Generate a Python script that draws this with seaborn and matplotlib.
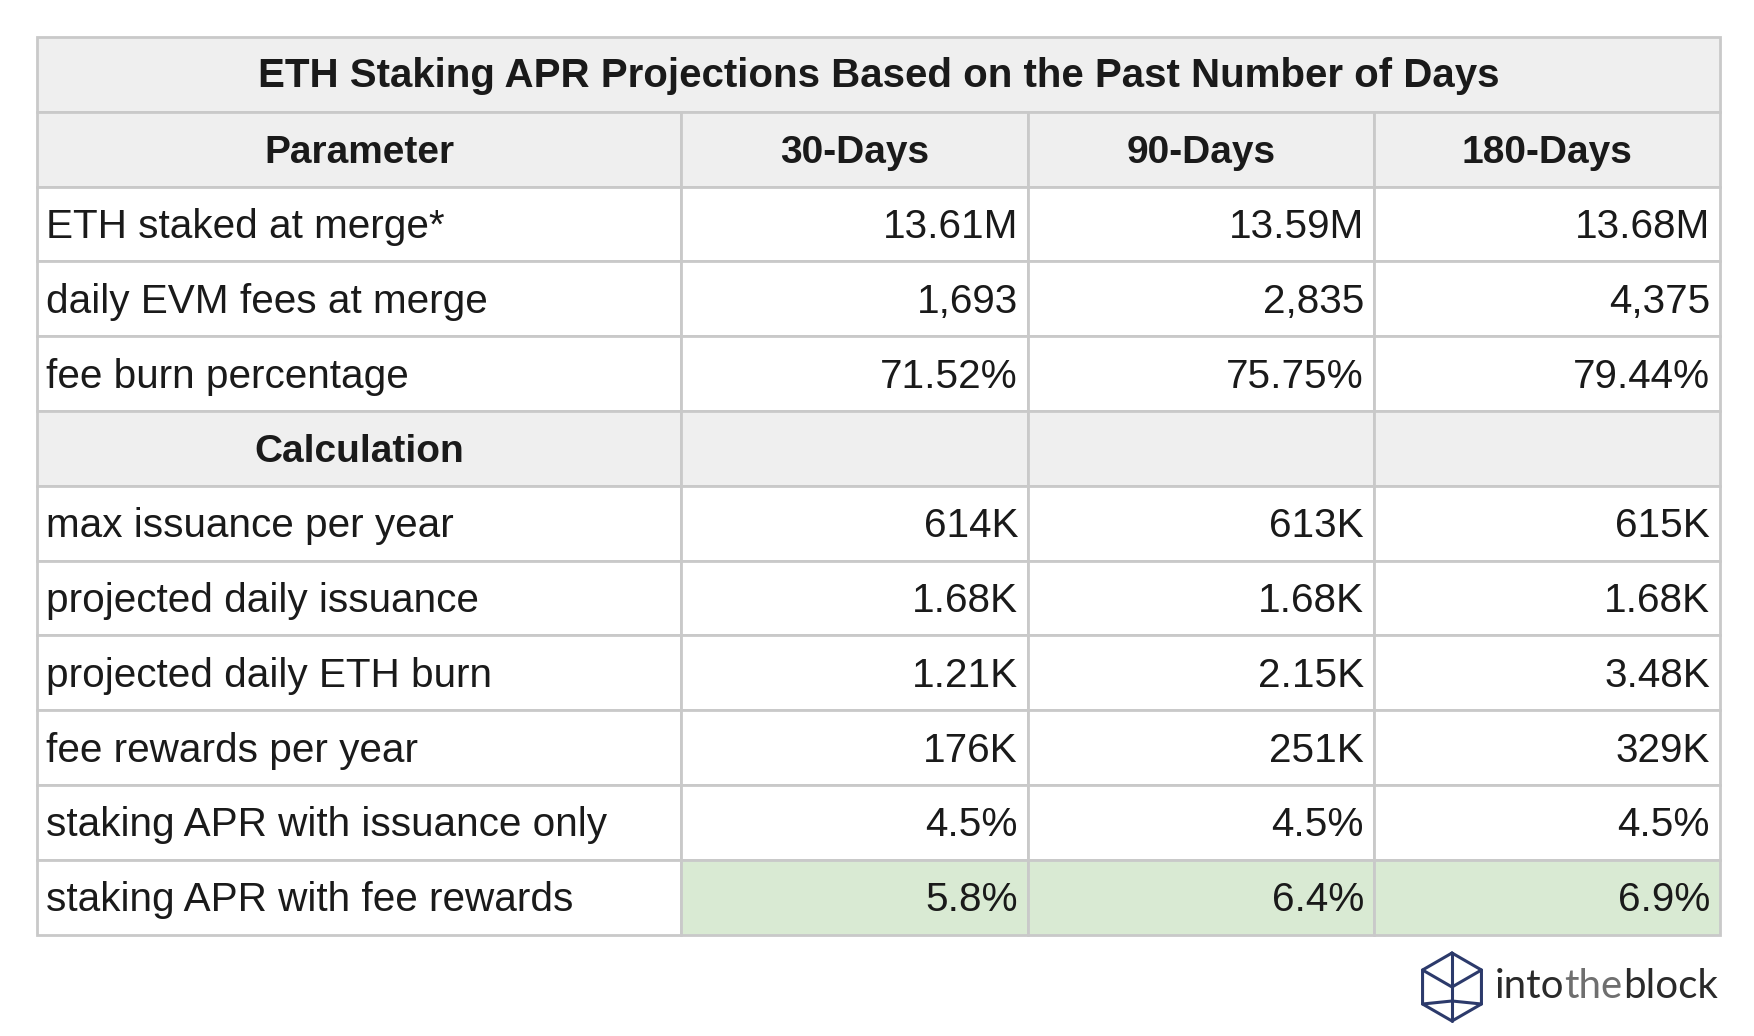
import matplotlib.pyplot as plt
import seaborn as sns
from matplotlib.patches import Rectangle
import numpy as np

# table content
title = "ETH Staking APR Projections Based on the Past Number of Days"
columns = ["Parameter", "30-Days", "90-Days", "180-Days"]
input_params = ["ETH staked at merge*", "daily EVM fees at merge", "fee burn percentage"]
input_30 = ["13.61M", "1,693", "71.52%"]
input_90 = ["13.59M", "2,835", "75.75%"]
input_180 = ["13.68M", "4,375", "79.44%"]
calc_params = ["max issuance per year", "projected daily issuance", "projected daily ETH burn",
               "fee rewards per year", "staking APR with issuance only", "staking APR with fee rewards"]
calc_30 = ["614K", "1.68K", "1.21K", "176K", "4.5%", "5.8%"]
calc_90 = ["613K", "1.68K", "2.15K", "251K", "4.5%", "6.4%"]
calc_180 = ["615K", "1.68K", "3.48K", "329K", "4.5%", "6.9%"]

sns.set_theme(style="white")
plt.rcParams["font.family"] = ["Liberation Sans", "DejaVu Sans"]

W, H = 1754, 1036
fig = plt.figure(figsize=(W / 100, H / 100), dpi=100)
ax = fig.add_axes([0, 0, 1, 1])
ax.set_xlim(0, W)
ax.set_ylim(H, 0)
ax.axis("off")

col_edges = [37, 681, 1028, 1374, 1720]
top, row_h = 37, 74.8
header_bg = "#efefef"
green_bg = "#d9ead3"
line_col = "#c9c9c9"
txt_col = "#1a1a1a"


def cell(r, c0, c1, face):
    y0 = top + r * row_h
    ax.add_patch(Rectangle((col_edges[c0], y0), col_edges[c1] - col_edges[c0], row_h,
                           facecolor=face, edgecolor=line_col, lw=2.0))


def put(r, c, s, align, bold=False):
    yb = top + r * row_h + row_h / 2 + 14
    if align == "left":
        x = col_edges[c] + 9
    elif align == "right":
        x = col_edges[c + 1] - 10
    else:
        x = (col_edges[c] + col_edges[c + 1]) / 2
    ax.text(x, yb, s, ha=align, va="baseline", fontsize=28 if bold else 29.2,
            color=txt_col, fontweight="bold" if bold else "normal")


# title row
cell(0, 0, 4, header_bg)
ax.text((col_edges[0] + col_edges[4]) / 2, top + row_h / 2 + 13, title, ha="center",
        va="baseline", fontsize=29, fontweight="bold", color=txt_col)

# header row
for c, name in enumerate(columns):
    cell(1, c, c + 1, header_bg)
    put(1, c, name, "center", bold=True)

# input rows
for i, p in enumerate(input_params):
    r = 2 + i
    for c in range(4):
        cell(r, c, c + 1, "white")
    put(r, 0, p, "left")
    for c, vals in enumerate([input_30, input_90, input_180], start=1):
        put(r, c, vals[i], "right")

# calculation header
r = 2 + len(input_params)
for c in range(4):
    cell(r, c, c + 1, header_bg)
put(r, 0, "Calculation", "center", bold=True)

# calculation rows
for i, p in enumerate(calc_params):
    r = 3 + len(input_params) + i
    last = i == len(calc_params) - 1
    for c in range(4):
        cell(r, c, c + 1, green_bg if (last and c > 0) else "white")
    put(r, 0, p, "left")
    for c, vals in enumerate([calc_30, calc_90, calc_180], start=1):
        put(r, c, vals[i], "right")

# logo icon
cx, cy, rad = 1452, 987, 34
ang = np.deg2rad([90, 30, -30, -90, -150, 150, 90])
hx = cx + rad * np.cos(ang)
hy = cy - rad * np.sin(ang)
navy = "#2c3a6b"
ax.plot(hx, hy, color=navy, lw=2.2, solid_joinstyle="round")
ax.plot([hx[5], cx, hx[1]], [hy[5], cy, hy[1]], color=navy, lw=2.2)
ax.plot([hx[0], cx, hx[3]], [hy[0], cy, hy[3]], color=navy, lw=2.2)
ax.plot([hx[4], cx, hx[2]], [hy[4], cy + 14, hy[2]], color=navy, lw=2.2)

# logo text
fig.canvas.draw()
renderer = fig.canvas.get_renderer()
x = 1495
for part, col in [("into", "#2a2a2a"), ("the", "#6f6f6f"), ("block", "#2a2a2a")]:
    t = ax.text(x, 998, part, ha="left", va="baseline", fontsize=29, color=col,
                family=["Lato", "DejaVu Sans"])
    bb = t.get_window_extent(renderer=renderer)
    x += bb.width

fig.savefig("out.png", dpi=100, facecolor="white")
